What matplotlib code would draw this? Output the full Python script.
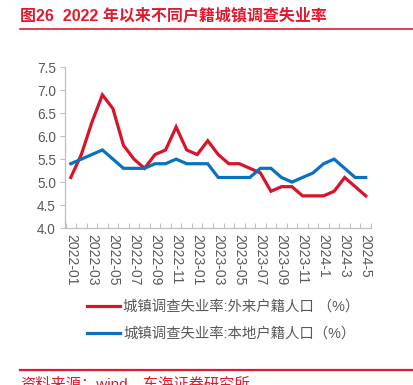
import matplotlib
matplotlib.use("Agg")
import matplotlib.pyplot as plt
from matplotlib.lines import Line2D

plt.rcParams['font.family'] = ['Liberation Sans', 'Noto Sans CJK SC', 'DejaVu Sans']

months = ["2022-01", "2022-02", "2022-03", "2022-04", "2022-05", "2022-06", "2022-07",
          "2022-08", "2022-09", "2022-10", "2022-11", "2022-12", "2023-01", "2023-02",
          "2023-03", "2023-04", "2023-05", "2023-06", "2023-07", "2023-08", "2023-09",
          "2023-10", "2023-11", "2023-12", "2024-1", "2024-2", "2024-3", "2024-4", "2024-5"]
migrant = [5.1, 5.6, 6.3, 6.9, 6.6, 5.8, 5.5, 5.3, 5.6, 5.7, 6.2, 5.7, 5.6, 5.9,
           5.6, 5.4, 5.4, 5.3, 5.2, 4.8, 4.9, 4.9, 4.7, 4.7, 4.7, 4.8, 5.1, 4.9, 4.7]
local = [5.4, 5.5, 5.6, 5.7, 5.5, 5.3, 5.3, 5.3, 5.4, 5.4, 5.5, 5.4, 5.4, 5.4,
         5.1, 5.1, 5.1, 5.1, 5.3, 5.3, 5.1, 5.0, 5.1, 5.2, 5.4, 5.5, 5.3, 5.1, 5.1]
label_migrant = "城镇调查失业率:外来户籍人口 （%）"
label_local = "城镇调查失业率:本地户籍人口（%）"
title = "图26  2022 年以来不同户籍城镇调查失业率"
source = "资料来源：wind，东海证券研究所"

RED = '#D7142B'
BLUE = '#0A70C0'
TITLE_RED = '#E11B2F'
GREY = '#595959'
AXGREY = '#BFBFBF'

W, H = 414, 385
fig = plt.figure(figsize=(W / 100, H / 100), dpi=100)
ax = fig.add_axes([65 / W, 1 - 228 / H, (371 - 65) / W, (228 - 67.3) / H])

x = list(range(len(months)))
l1, = ax.plot(x, migrant, color=RED, lw=2.3, solid_joinstyle='miter')
l2, = ax.plot(x, local, color=BLUE, lw=2.3, solid_joinstyle='miter')

ax.set_xlim(-0.55, len(months) - 0.5)
ax.set_ylim(4.0, 7.5)
ax.set_yticks([4.0, 4.5, 5.0, 5.5, 6.0, 6.5, 7.0, 7.5])
ax.set_yticklabels([f"{v:.1f}" for v in [4.0, 4.5, 5.0, 5.5, 6.0, 6.5, 7.0, 7.5]],
                   fontsize=9.8, color=GREY)

ax.set_xticks(x[::2])
ax.set_xticklabels(months[::2], rotation=-90, fontsize=10, color=GREY)
ax.set_xticks([i - 0.5 for i in range(len(months) + 1)], minor=True)
ax.tick_params(axis='x', which='major', length=0, pad=4)
ax.tick_params(axis='x', which='minor', direction='in', length=3.5, color=AXGREY, width=0.8)
ax.tick_params(axis='y', direction='out', length=3.5, color=AXGREY, width=0.8, pad=3)

for s in ['top', 'right']:
    ax.spines[s].set_visible(False)
for s in ['left', 'bottom']:
    ax.spines[s].set_color(AXGREY)
    ax.spines[s].set_linewidth(0.9)

leg = fig.legend([l1, l2], [label_migrant, label_local],
                 loc='upper left', bbox_to_anchor=(87 / W, 1 - 300 / H),
                 frameon=False, fontsize=10.4, handlelength=2.3, handletextpad=0.2,
                 labelspacing=0.9, borderaxespad=0, borderpad=0)
for t in leg.get_texts():
    t.set_color(GREY)

fig.text(20 / W, 1 - 15 / H, title, color=TITLE_RED, fontsize=11.5,
         fontweight='bold', va='center', ha='left',
         family=['Liberation Sans', 'Noto Sans CJK SC'])
fig.add_artist(Line2D([20 / W, 1], [1 - 29 / H, 1 - 29 / H], color=TITLE_RED, lw=1.2))
fig.add_artist(Line2D([20 / W, 1], [1 - 370 / H, 1 - 370 / H], color=TITLE_RED, lw=1.6))
fig.text(20 / W, 1 - 377 / H, source, color=TITLE_RED, fontsize=11, va='top', ha='left')

fig.savefig("out.png", dpi=100)
